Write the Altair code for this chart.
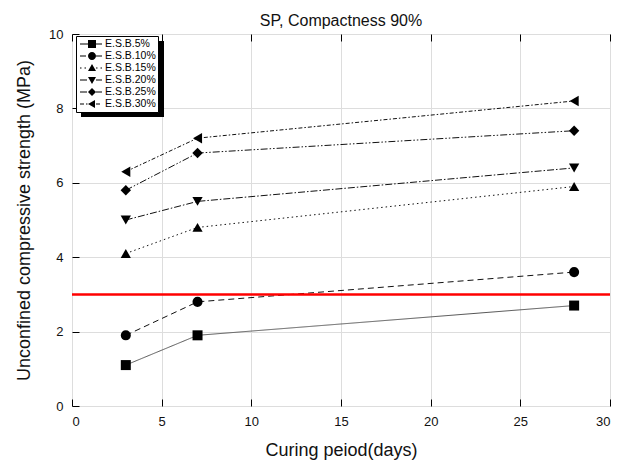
import altair as alt
import pandas as pd

# ---- data ----
days = [3, 7, 28]
series = ["E.S.B.5%", "E.S.B.10%", "E.S.B.15%", "E.S.B.20%", "E.S.B.25%", "E.S.B.30%"]
esb5 = [1.1, 1.9, 2.7]
esb10 = [1.9, 2.8, 3.6]
esb15 = [4.1, 4.8, 5.9]
esb20 = [5.0, 5.5, 6.4]
esb25 = [5.8, 6.8, 7.4]
esb30 = [6.3, 7.2, 8.2]
values = [esb5, esb10, esb15, esb20, esb25, esb30]
x_ticks = [0, 5, 10, 15, 20, 25, 30]
y_ticks = [0, 2, 4, 6, 8, 10]
criterion = 3

rows = []
for s, vals in zip(series, values):
    for d, v in zip(days, vals):
        rows.append({"series": s, "day": d, "strength": v})
df = pd.DataFrame(rows)

# ---- styles ----
FONT = "Liberation Sans"
dashes = [[1, 0], [6, 4], [1.5, 3], [7, 2, 1.5, 2], [7, 2, 1.5, 2, 1.5, 2], [4, 2, 1.5, 2]]
line_colors = ["#555555", "#111111", "#111111", "#111111", "#111111", "#111111"]
shapes = ["square", "circle", "triangle-up", "triangle-down", "diamond", "triangle-left"]
sizes = [100, 110, 150, 150, 150, 150]

UNIT = 5.0  # px per path unit for legend symbol (sqrt(100)/2)
CX, H = 1.6, 0.8
LW = 0.1  # half line thickness in path units


def seg_rect(a, b):
    return f"M{a:.2f},{-LW:.2f}H{b:.2f}V{LW:.2f}H{a:.2f}Z"


def seg_path(pattern, a, b):
    if pattern[1] == 0:
        return seg_rect(a, b)
    out = []
    pos = a
    i = 0
    on = True
    while pos < b - 1e-6:
        ln = pattern[i % len(pattern)] / UNIT
        end = min(pos + ln, b)
        if on:
            out.append(seg_rect(pos, end))
        pos = end
        on = not on
        i += 1
    return "".join(out)


def marker_path(kind):
    c, h = CX, H
    if kind == "square":
        return f"M{c-h:.2f},{-h:.2f}H{c+h:.2f}V{h:.2f}H{c-h:.2f}Z"
    if kind == "circle":
        return f"M{c-h:.2f},0A{h:.2f},{h:.2f} 0 1,0 {c+h:.2f},0A{h:.2f},{h:.2f} 0 1,0 {c-h:.2f},0Z"
    if kind == "triangle-up":
        return f"M{c:.2f},{-h:.2f}L{c+h:.2f},{h*0.75:.2f}L{c-h:.2f},{h*0.75:.2f}Z"
    if kind == "triangle-down":
        return f"M{c:.2f},{h:.2f}L{c+h:.2f},{-h*0.75:.2f}L{c-h:.2f},{-h*0.75:.2f}Z"
    if kind == "diamond":
        return f"M{c-h:.2f},0L{c:.2f},{-h:.2f}L{c+h:.2f},0L{c:.2f},{h:.2f}Z"
    return f"M{c-h:.2f},0L{c+h*0.75:.2f},{-h:.2f}L{c+h*0.75:.2f},{h:.2f}Z"


legend_paths = [
    seg_path(d, -0.8, CX - H) + seg_path(d, CX + H, 3.6) + marker_path(k)
    for d, k in zip(dashes, shapes)
]

xscale = alt.Scale(domain=[0, 30], nice=False, zero=False)
yscale = alt.Scale(domain=[0, 10], nice=False, zero=False)

base = alt.Chart(df)

main_x = alt.Axis(values=x_ticks, grid=True, gridColor="#dddddd", ticks=False, tickSize=0,
                  domain=False, labelFont=FONT, labelFontSize=13, labelColor="#111",
                  labelPadding=9, title="Curing peiod(days)", titleFont=FONT,
                  titleFontSize=18, titleFontWeight="normal", titleColor="#111",
                  titlePadding=13, orient="bottom")
main_y = alt.Axis(values=y_ticks, grid=True, gridColor="#dddddd", ticks=False, tickSize=0,
                  domain=False, labelFont=FONT, labelFontSize=13, labelColor="#111",
                  labelPadding=9, title="Unconfined compressive strength (MPa)",
                  titleFont=FONT, titleFontSize=18, titleFontWeight="normal",
                  titleColor="#111", titlePadding=15, orient="left")

lines = base.mark_line(strokeWidth=1).encode(
    x=alt.X("day:Q", scale=xscale, axis=main_x),
    y=alt.Y("strength:Q", scale=yscale, axis=main_y),
    detail="series:N",
    strokeDash=alt.StrokeDash("series:N", scale=alt.Scale(domain=series, range=dashes), legend=None),
    color=alt.Color("series:N", scale=alt.Scale(domain=series, range=line_colors), legend=None),
)

points = base.mark_point(filled=True, color="black", opacity=1).encode(
    x=alt.X("day:Q", scale=xscale, axis=None),
    y=alt.Y("strength:Q", scale=yscale, axis=None),
    shape=alt.Shape("series:N", scale=alt.Scale(domain=series, range=shapes), legend=None),
    size=alt.Size("series:N", scale=alt.Scale(domain=series, range=sizes), legend=None),
)

red = alt.Chart(pd.DataFrame({"c": [criterion]})).mark_rule(color="#ff0000", strokeWidth=2.5).encode(
    y=alt.Y("c:Q", scale=yscale, axis=None),
)

shadow = alt.Chart(pd.DataFrame({"a": [0]})).mark_rect(color="black").encode(
    x=alt.value(9), x2=alt.value(92), y=alt.value(7), y2=alt.value(83),
)

legend_layer = base.transform_filter("false").mark_point(
    filled=True, color="black", opacity=1
).encode(
    x=alt.X("day:Q", scale=xscale, axis=None),
    y=alt.Y("strength:Q", scale=yscale, axis=None),
    shape=alt.Shape("series:N", scale=alt.Scale(domain=series, range=legend_paths),
                    legend=alt.Legend(title=None, orient="none", legendX=4, legendY=2,
                                      padding=2, rowPadding=0, clipHeight=12, symbolSize=100,
                                      symbolFillColor="black", labelFont=FONT,
                                      labelFontSize=10.5, labelColor="black", labelOffset=15,
                                      strokeColor="black", fillColor="white")),
)

ticks_bl = base.mark_point(opacity=0).encode(
    x=alt.X("day:Q", scale=xscale, axis=alt.Axis(values=x_ticks, orient="bottom", offset=-7,
                                                   tickSize=7, tickColor="black", labels=False,
                                                   domain=False, grid=False, title=None)),
    y=alt.Y("strength:Q", scale=yscale, axis=alt.Axis(values=y_ticks, orient="left", offset=-7,
                                                        tickSize=7, tickColor="black", labels=False,
                                                        domain=False, grid=False, title=None)),
)

ticks_top = base.mark_point(opacity=0).encode(
    x=alt.X("day:Q", scale=xscale, axis=alt.Axis(values=x_ticks, orient="top", offset=-7,
                                                   tickSize=7, tickColor="black", labels=False,
                                                   domain=False, grid=False, title=None)),
    y=alt.Y("strength:Q", scale=yscale, axis=None),
)

chart = alt.layer(
    lines, ticks_bl, ticks_top, red, shadow, points, legend_layer
).resolve_axis(
    x="independent", y="independent"
).resolve_scale(
    shape="independent", size="independent", color="independent", strokeDash="independent"
).properties(
    width=538, height=372,
    title=alt.TitleParams("SP, Compactness 90%", font=FONT, fontSize=16, fontWeight="normal",
                          color="#111", anchor="middle", offset=8, baseline="alphabetic", dy=22),
    autosize=alt.AutoSizeParams(type="none"),
    padding={"left": 72, "top": 34, "right": 18, "bottom": 55},
).configure_view(
    stroke="black", strokeWidth=1.5
).configure(background="white")

chart.save("out.html", embed_options={"renderer": "svg", "actions": False})
